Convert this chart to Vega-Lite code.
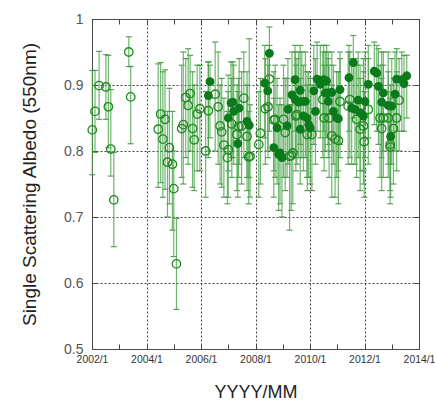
{
  "$schema": "https://vega.github.io/schema/vega-lite/v6.json",
  "autosize": "none",
  "width": 327,
  "height": 330,
  "padding": {"left": 92, "top": 19, "right": 16, "bottom": 57},
  "background": "white",
  "config": {
    "font": "Liberation Sans",
    "view": {"stroke": "#555", "strokeWidth": 1}
  },
  "data": {"values": [
    {"t": 2002.01, "v": 0.832, "lo": 0.764, "hi": 0.922, "s": "o"},
    {"t": 2002.11, "v": 0.860, "lo": 0.798, "hi": 0.922, "s": "o"},
    {"t": 2002.26, "v": 0.899, "lo": 0.848, "hi": 0.951, "s": "o"},
    {"t": 2002.51, "v": 0.897, "lo": 0.848, "hi": 0.946, "s": "o"},
    {"t": 2002.60, "v": 0.867, "lo": 0.805, "hi": 0.945, "s": "o"},
    {"t": 2002.69, "v": 0.803, "lo": 0.762, "hi": 0.893, "s": "o"},
    {"t": 2002.80, "v": 0.726, "lo": 0.655, "hi": 0.798, "s": "o"},
    {"t": 2003.35, "v": 0.950, "lo": 0.928, "hi": 0.973, "s": "o"},
    {"t": 2003.42, "v": 0.882, "lo": 0.811, "hi": 0.928, "s": "o"},
    {"t": 2004.43, "v": 0.833, "lo": 0.745, "hi": 0.932, "s": "o"},
    {"t": 2004.52, "v": 0.856, "lo": 0.752, "hi": 0.934, "s": "o"},
    {"t": 2004.60, "v": 0.818, "lo": 0.730, "hi": 0.920, "s": "o"},
    {"t": 2004.68, "v": 0.848, "lo": 0.742, "hi": 0.923, "s": "o"},
    {"t": 2004.77, "v": 0.783, "lo": 0.700, "hi": 0.860, "s": "o"},
    {"t": 2004.84, "v": 0.805, "lo": 0.720, "hi": 0.895, "s": "o"},
    {"t": 2004.95, "v": 0.780, "lo": 0.680, "hi": 0.860, "s": "o"},
    {"t": 2005.00, "v": 0.743, "lo": 0.640, "hi": 0.800, "s": "o"},
    {"t": 2005.10, "v": 0.629, "lo": 0.560, "hi": 0.698, "s": "o"},
    {"t": 2005.29, "v": 0.834, "lo": 0.760, "hi": 0.930, "s": "o"},
    {"t": 2005.35, "v": 0.840, "lo": 0.750, "hi": 0.950, "s": "o"},
    {"t": 2005.44, "v": 0.881, "lo": 0.790, "hi": 0.940, "s": "o"},
    {"t": 2005.53, "v": 0.869, "lo": 0.780, "hi": 0.955, "s": "o"},
    {"t": 2005.60, "v": 0.887, "lo": 0.800, "hi": 0.945, "s": "o"},
    {"t": 2005.69, "v": 0.834, "lo": 0.745, "hi": 0.920, "s": "o"},
    {"t": 2005.75, "v": 0.817, "lo": 0.740, "hi": 0.900, "s": "o"},
    {"t": 2005.86, "v": 0.856, "lo": 0.770, "hi": 0.930, "s": "o"},
    {"t": 2005.96, "v": 0.864, "lo": 0.770, "hi": 0.930, "s": "o"},
    {"t": 2006.17, "v": 0.800, "lo": 0.730, "hi": 0.890, "s": "o"},
    {"t": 2006.27, "v": 0.861, "lo": 0.790, "hi": 0.935, "s": "o"},
    {"t": 2006.27, "v": 0.884, "lo": 0.800, "hi": 0.935, "s": "f"},
    {"t": 2006.33, "v": 0.905, "lo": 0.820, "hi": 0.930, "s": "f"},
    {"t": 2006.52, "v": 0.886, "lo": 0.800, "hi": 0.965, "s": "o"},
    {"t": 2006.63, "v": 0.867, "lo": 0.780, "hi": 0.950, "s": "o"},
    {"t": 2006.70, "v": 0.838, "lo": 0.750, "hi": 0.900, "s": "o"},
    {"t": 2006.76, "v": 0.829, "lo": 0.745, "hi": 0.910, "s": "o"},
    {"t": 2006.84, "v": 0.809, "lo": 0.730, "hi": 0.880, "s": "o"},
    {"t": 2006.97, "v": 0.790, "lo": 0.720, "hi": 0.860, "s": "o"},
    {"t": 2007.00, "v": 0.802, "lo": 0.730, "hi": 0.890, "s": "o"},
    {"t": 2007.00, "v": 0.850, "lo": 0.770, "hi": 0.915, "s": "f"},
    {"t": 2007.10, "v": 0.873, "lo": 0.790, "hi": 0.935, "s": "f"},
    {"t": 2007.13, "v": 0.841, "lo": 0.760, "hi": 0.910, "s": "o"},
    {"t": 2007.17, "v": 0.874, "lo": 0.790, "hi": 0.935, "s": "f"},
    {"t": 2007.20, "v": 0.860, "lo": 0.780, "hi": 0.930, "s": "f"},
    {"t": 2007.32, "v": 0.825, "lo": 0.740, "hi": 0.900, "s": "o"},
    {"t": 2007.35, "v": 0.811, "lo": 0.730, "hi": 0.890, "s": "f"},
    {"t": 2007.38, "v": 0.837, "lo": 0.760, "hi": 0.910, "s": "o"},
    {"t": 2007.40, "v": 0.865, "lo": 0.780, "hi": 0.940, "s": "f"},
    {"t": 2007.49, "v": 0.838, "lo": 0.750, "hi": 0.920, "s": "o"},
    {"t": 2007.57, "v": 0.880, "lo": 0.790, "hi": 0.950, "s": "o"},
    {"t": 2007.69, "v": 0.845, "lo": 0.760, "hi": 0.920, "s": "f"},
    {"t": 2007.69, "v": 0.822, "lo": 0.740, "hi": 0.900, "s": "o"},
    {"t": 2007.75, "v": 0.791, "lo": 0.720, "hi": 0.860, "s": "o"},
    {"t": 2007.77, "v": 0.839, "lo": 0.760, "hi": 0.970, "s": "f"},
    {"t": 2007.80, "v": 0.792, "lo": 0.730, "hi": 0.870, "s": "o"},
    {"t": 2008.12, "v": 0.810, "lo": 0.730, "hi": 0.890, "s": "o"},
    {"t": 2008.18, "v": 0.827, "lo": 0.750, "hi": 0.910, "s": "o"},
    {"t": 2008.34, "v": 0.903, "lo": 0.820, "hi": 0.960, "s": "f"},
    {"t": 2008.36, "v": 0.864, "lo": 0.780, "hi": 0.940, "s": "o"},
    {"t": 2008.45, "v": 0.891, "lo": 0.800, "hi": 0.950, "s": "f"},
    {"t": 2008.46, "v": 0.867, "lo": 0.790, "hi": 0.930, "s": "o"},
    {"t": 2008.51, "v": 0.948, "lo": 0.870, "hi": 0.988, "s": "f"},
    {"t": 2008.51, "v": 0.909, "lo": 0.830, "hi": 0.960, "s": "o"},
    {"t": 2008.67, "v": 0.847, "lo": 0.770, "hi": 0.920, "s": "o"},
    {"t": 2008.67, "v": 0.805, "lo": 0.730, "hi": 0.880, "s": "f"},
    {"t": 2008.72, "v": 0.848, "lo": 0.760, "hi": 0.930, "s": "o"},
    {"t": 2008.79, "v": 0.835, "lo": 0.750, "hi": 0.910, "s": "f"},
    {"t": 2008.85, "v": 0.795, "lo": 0.710, "hi": 0.870, "s": "f"},
    {"t": 2008.90, "v": 0.797, "lo": 0.720, "hi": 0.880, "s": "f"},
    {"t": 2008.97, "v": 0.790, "lo": 0.700, "hi": 0.870, "s": "f"},
    {"t": 2009.03, "v": 0.848, "lo": 0.760, "hi": 0.930, "s": "o"},
    {"t": 2009.09, "v": 0.828, "lo": 0.740, "hi": 0.910, "s": "o"},
    {"t": 2009.16, "v": 0.838, "lo": 0.760, "hi": 0.910, "s": "f"},
    {"t": 2009.19, "v": 0.863, "lo": 0.780, "hi": 0.940, "s": "f"},
    {"t": 2009.25, "v": 0.792, "lo": 0.680, "hi": 0.870, "s": "o"},
    {"t": 2009.31, "v": 0.793, "lo": 0.710, "hi": 0.870, "s": "o"},
    {"t": 2009.34, "v": 0.885, "lo": 0.800, "hi": 0.950, "s": "f"},
    {"t": 2009.37, "v": 0.797, "lo": 0.720, "hi": 0.880, "s": "o"},
    {"t": 2009.45, "v": 0.908, "lo": 0.830, "hi": 0.960, "s": "f"},
    {"t": 2009.46, "v": 0.878, "lo": 0.790, "hi": 0.950, "s": "f"},
    {"t": 2009.48, "v": 0.853, "lo": 0.770, "hi": 0.930, "s": "o"},
    {"t": 2009.52, "v": 0.855, "lo": 0.780, "hi": 0.940, "s": "o"},
    {"t": 2009.58, "v": 0.874, "lo": 0.790, "hi": 0.950, "s": "f"},
    {"t": 2009.64, "v": 0.892, "lo": 0.810, "hi": 0.960, "s": "f"},
    {"t": 2009.64, "v": 0.833, "lo": 0.750, "hi": 0.910, "s": "f"},
    {"t": 2009.70, "v": 0.875, "lo": 0.790, "hi": 0.950, "s": "f"},
    {"t": 2009.76, "v": 0.853, "lo": 0.770, "hi": 0.930, "s": "f"},
    {"t": 2009.83, "v": 0.875, "lo": 0.790, "hi": 0.950, "s": "f"},
    {"t": 2009.89, "v": 0.850, "lo": 0.760, "hi": 0.920, "s": "f"},
    {"t": 2009.90, "v": 0.825, "lo": 0.740, "hi": 0.900, "s": "o"},
    {"t": 2009.95, "v": 0.840, "lo": 0.760, "hi": 0.920, "s": "f"},
    {"t": 2010.01, "v": 0.835, "lo": 0.750, "hi": 0.910, "s": "f"},
    {"t": 2010.07, "v": 0.825, "lo": 0.740, "hi": 0.900, "s": "o"},
    {"t": 2010.14, "v": 0.891, "lo": 0.810, "hi": 0.960, "s": "f"},
    {"t": 2010.20, "v": 0.860, "lo": 0.780, "hi": 0.940, "s": "f"},
    {"t": 2010.26, "v": 0.909, "lo": 0.830, "hi": 0.965, "s": "f"},
    {"t": 2010.38, "v": 0.901, "lo": 0.820, "hi": 0.960, "s": "f"},
    {"t": 2010.47, "v": 0.878, "lo": 0.790, "hi": 0.950, "s": "o"},
    {"t": 2010.50, "v": 0.908, "lo": 0.830, "hi": 0.960, "s": "f"},
    {"t": 2010.52, "v": 0.850, "lo": 0.770, "hi": 0.930, "s": "o"},
    {"t": 2010.56, "v": 0.888, "lo": 0.800, "hi": 0.950, "s": "f"},
    {"t": 2010.61, "v": 0.906, "lo": 0.820, "hi": 0.960, "s": "f"},
    {"t": 2010.67, "v": 0.888, "lo": 0.810, "hi": 0.950, "s": "f"},
    {"t": 2010.67, "v": 0.875, "lo": 0.790, "hi": 0.940, "s": "f"},
    {"t": 2010.70, "v": 0.850, "lo": 0.760, "hi": 0.930, "s": "o"},
    {"t": 2010.80, "v": 0.889, "lo": 0.800, "hi": 0.950, "s": "f"},
    {"t": 2010.80, "v": 0.823, "lo": 0.730, "hi": 0.900, "s": "o"},
    {"t": 2010.86, "v": 0.860, "lo": 0.780, "hi": 0.930, "s": "f"},
    {"t": 2010.92, "v": 0.818, "lo": 0.730, "hi": 0.890, "s": "o"},
    {"t": 2010.98, "v": 0.850, "lo": 0.760, "hi": 0.920, "s": "f"},
    {"t": 2011.04, "v": 0.849, "lo": 0.770, "hi": 0.920, "s": "f"},
    {"t": 2011.04, "v": 0.816, "lo": 0.720, "hi": 0.890, "s": "o"},
    {"t": 2011.10, "v": 0.893, "lo": 0.810, "hi": 0.950, "s": "f"},
    {"t": 2011.10, "v": 0.875, "lo": 0.790, "hi": 0.940, "s": "o"},
    {"t": 2011.40, "v": 0.868, "lo": 0.780, "hi": 0.950, "s": "o"},
    {"t": 2011.43, "v": 0.911, "lo": 0.830, "hi": 0.960, "s": "f"},
    {"t": 2011.46, "v": 0.878, "lo": 0.790, "hi": 0.950, "s": "o"},
    {"t": 2011.53, "v": 0.865, "lo": 0.780, "hi": 0.940, "s": "f"},
    {"t": 2011.59, "v": 0.934, "lo": 0.850, "hi": 0.975, "s": "f"},
    {"t": 2011.65, "v": 0.863, "lo": 0.780, "hi": 0.940, "s": "f"},
    {"t": 2011.71, "v": 0.848, "lo": 0.760, "hi": 0.930, "s": "o"},
    {"t": 2011.77, "v": 0.877, "lo": 0.790, "hi": 0.950, "s": "f"},
    {"t": 2011.84, "v": 0.858, "lo": 0.770, "hi": 0.930, "s": "f"},
    {"t": 2011.84, "v": 0.833, "lo": 0.740, "hi": 0.910, "s": "o"},
    {"t": 2011.96, "v": 0.853, "lo": 0.770, "hi": 0.940, "s": "f"},
    {"t": 2011.96, "v": 0.838, "lo": 0.750, "hi": 0.920, "s": "o"},
    {"t": 2011.99, "v": 0.814, "lo": 0.730, "hi": 0.890, "s": "o"},
    {"t": 2012.02, "v": 0.875, "lo": 0.790, "hi": 0.950, "s": "f"},
    {"t": 2012.14, "v": 0.901, "lo": 0.820, "hi": 0.960, "s": "f"},
    {"t": 2012.14, "v": 0.863, "lo": 0.780, "hi": 0.940, "s": "o"},
    {"t": 2012.36, "v": 0.921, "lo": 0.840, "hi": 0.965, "s": "f"},
    {"t": 2012.45, "v": 0.918, "lo": 0.830, "hi": 0.960, "s": "f"},
    {"t": 2012.51, "v": 0.898, "lo": 0.810, "hi": 0.955, "s": "f"},
    {"t": 2012.57, "v": 0.850, "lo": 0.760, "hi": 0.930, "s": "o"},
    {"t": 2012.63, "v": 0.874, "lo": 0.790, "hi": 0.950, "s": "f"},
    {"t": 2012.63, "v": 0.834, "lo": 0.740, "hi": 0.910, "s": "o"},
    {"t": 2012.69, "v": 0.888, "lo": 0.800, "hi": 0.950, "s": "f"},
    {"t": 2012.69, "v": 0.850, "lo": 0.760, "hi": 0.930, "s": "o"},
    {"t": 2012.87, "v": 0.869, "lo": 0.780, "hi": 0.950, "s": "f"},
    {"t": 2012.87, "v": 0.850, "lo": 0.760, "hi": 0.920, "s": "o"},
    {"t": 2012.94, "v": 0.810, "lo": 0.720, "hi": 0.880, "s": "o"},
    {"t": 2012.94, "v": 0.806, "lo": 0.740, "hi": 0.890, "s": "o"},
    {"t": 2012.96, "v": 0.822, "lo": 0.730, "hi": 0.900, "s": "f"},
    {"t": 2013.00, "v": 0.868, "lo": 0.780, "hi": 0.940, "s": "f"},
    {"t": 2013.06, "v": 0.834, "lo": 0.750, "hi": 0.910, "s": "o"},
    {"t": 2013.12, "v": 0.886, "lo": 0.800, "hi": 0.950, "s": "f"},
    {"t": 2013.18, "v": 0.909, "lo": 0.830, "hi": 0.955, "s": "f"},
    {"t": 2013.18, "v": 0.850, "lo": 0.770, "hi": 0.920, "s": "o"},
    {"t": 2013.27, "v": 0.877, "lo": 0.800, "hi": 0.940, "s": "o"},
    {"t": 2013.37, "v": 0.908, "lo": 0.830, "hi": 0.950, "s": "f"},
    {"t": 2013.45, "v": 0.902, "lo": 0.830, "hi": 0.945, "s": "f"},
    {"t": 2013.55, "v": 0.914, "lo": 0.850, "hi": 0.945, "s": "f"}
  ]},
  "resolve": {"axis": {"x": "independent", "y": "independent"}},
  "layer": [
    {
      "mark": {"type": "errorbar", "ticks": {"size": 6, "color": "#2f8a2f"}, "color": "#4aa44a", "opacity": 0.8, "thickness": 1.2},
      "encoding": {
        "x": {"field": "t", "type": "quantitative", "scale": {"domain": [2002, 2014], "nice": false, "zero": false},
          "axis": {"orient": "bottom", "values": [2002,2003,2004,2005,2006,2007,2008,2009,2010,2011,2012,2013,2014],
            "labelExpr": "datum.value % 2 == 0 ? datum.value + '/1' : ''", "labelFlush": false, "labelOverlap": false,
            "labelFontSize": 10.4, "labelColor": "#333", "labelPadding": 10,
            "tickSize": -5, "tickColor": "#444", "domain": false,
            "grid": true, "gridDash": [2, 2], "gridColor": "#444",
            "gridOpacity": {"condition": {"test": "datum.value % 2 == 1", "value": 0}, "value": 1},
            "title": "YYYY/MM", "titleFontSize": 18, "titleFontWeight": "normal", "titleColor": "#222", "titlePadding": 19}},
        "y": {"field": "lo", "type": "quantitative", "scale": {"domain": [0.5, 1], "nice": false, "zero": false},
          "axis": {"orient": "left", "values": [0.5, 0.6, 0.7, 0.8, 0.9, 1], "format": "~g",
            "labelFontSize": 14, "labelColor": "#555", "labelPadding": 14, "labelFlush": false,
            "tickSize": -5, "tickColor": "#444", "domain": false,
            "grid": true, "gridDash": [2, 2], "gridColor": "#444",
            "title": "Single Scattering Albedo (550nm)", "titleFontSize": 19, "titleFontWeight": "normal", "titleColor": "#222", "titlePadding": 24}},
        "y2": {"field": "hi"}
      }
    },
    {
      "transform": [{"filter": "datum.s == 'o'"}],
      "mark": {"type": "point", "shape": "circle", "filled": false, "size": 72, "strokeWidth": 1.3, "color": "#1f8a1f", "opacity": 1},
      "encoding": {
        "x": {"field": "t", "type": "quantitative",
          "axis": {"orient": "top", "values": [2002,2003,2004,2005,2006,2007,2008,2009,2010,2011,2012,2013,2014],
            "labels": false, "tickSize": -5, "tickColor": "#444", "domain": false, "grid": false, "title": null}},
        "y": {"field": "v", "type": "quantitative",
          "axis": {"orient": "right", "values": [0.5, 0.6, 0.7, 0.8, 0.9, 1], "labels": false,
            "tickSize": -5, "tickColor": "#444", "domain": false, "grid": false, "title": null}}
      }
    },
    {
      "transform": [{"filter": "datum.s == 'f'"}],
      "mark": {"type": "point", "shape": "circle", "filled": true, "size": 78, "color": "#0b7a1b", "opacity": 1},
      "encoding": {
        "x": {"field": "t", "type": "quantitative", "axis": null},
        "y": {"field": "v", "type": "quantitative", "axis": null}
      }
    }
  ]
}
